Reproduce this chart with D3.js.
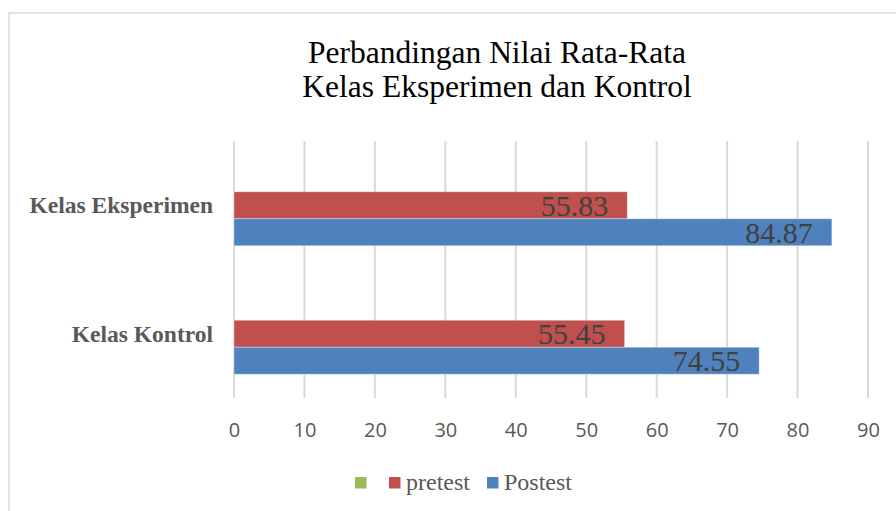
<!DOCTYPE html>
<html>
<head>
<meta charset="utf-8">
<script src="https://cdn.jsdelivr.net/npm/d3@7"></script>
<style>
  html, body { margin: 0; padding: 0; background: #fff; }
  svg { display: block; }
</style>
</head>
<body>
<svg id="chart" width="896" height="511"></svg>
<script>
const categories = ['Kelas Eksperimen', 'Kelas Kontrol'];
const seriesNames = ['', 'pretest', 'Postest'];
const seriesColors = ['#9bbb59', '#c0504d', '#4f81bd'];
const blankValues = [null, null];
const pretestValues = [55.83, 55.45];
const postestValues = [84.87, 74.55];
const xTicks = [0, 10, 20, 30, 40, 50, 60, 70, 80, 90];
const titleLines = ['Perbandingan Nilai Rata-Rata', 'Kelas Eksperimen dan Kontrol'];

const seriesValues = [blankValues, pretestValues, postestValues];

const svg = d3.select('#chart');

// chart frame
svg.append('rect')
  .attr('x', 9)
  .attr('y', 13)
  .attr('width', 900)
  .attr('height', 510)
  .attr('fill', 'none')
  .attr('stroke', '#d9d9d9')
  .attr('stroke-width', 1.5);

// title
svg.append('g')
  .selectAll('text')
  .data(titleLines)
  .enter()
  .append('text')
  .attr('x', 497)
  .attr('y', (d, i) => 63 + i * 34)
  .attr('text-anchor', 'middle')
  .style('font-family', '"Liberation Serif", "Times New Roman", serif')
  .style('font-size', '31.5px')
  .attr('fill', '#000')
  .text(d => d);

const x = d3.scaleLinear()
  .domain([0, 90])
  .range([234, 868]);

const yCat = d3.scaleBand()
  .domain(categories)
  .range([141, 398])
  .padding(0);

const ySeries = d3.scaleBand()
  .domain(seriesNames)
  .range([0, yCat.bandwidth()])
  .paddingInner(0)
  .paddingOuter(0.88);

// gridlines
svg.append('g')
  .attr('class', 'grid')
  .selectAll('line')
  .data(xTicks)
  .enter()
  .append('line')
  .attr('x1', d => x(d))
  .attr('x2', d => x(d))
  .attr('y1', 141)
  .attr('y2', 398)
  .attr('stroke', '#d9d9d9')
  .attr('stroke-width', 2);

// bars
const barRows = [];
seriesValues.forEach((vals, si) => {
  vals.forEach((v, ci) => {
    if (v !== null) barRows.push({ series: si, cat: categories[ci], value: v });
  });
});

const bars = svg.append('g')
  .attr('class', 'bars')
  .selectAll('g')
  .data(barRows)
  .enter()
  .append('g')
  .attr('transform', d => `translate(0,${yCat(d.cat) + ySeries(seriesNames[d.series])})`);

bars.append('rect')
  .attr('x', x(0))
  .attr('y', 0)
  .attr('width', d => x(d.value) - x(0))
  .attr('height', ySeries.bandwidth())
  .attr('fill', d => seriesColors[d.series])
  .attr('stroke', 'rgba(255,255,255,0.35)')
  .attr('stroke-width', 1);

bars.append('text')
  .attr('x', d => x(d.value) - 19)
  .attr('y', ySeries.bandwidth() / 2 + 10.5)
  .attr('text-anchor', 'end')
  .style('font-family', '"Liberation Serif", "Times New Roman", serif')
  .style('font-size', '30px')
  .attr('fill', '#404040')
  .text(d => d.value.toFixed(2));

// category labels
svg.append('g')
  .selectAll('text')
  .data(categories)
  .enter()
  .append('text')
  .attr('x', 213)
  .attr('y', d => yCat(d) + yCat.bandwidth() / 2 + 8)
  .attr('text-anchor', 'end')
  .style('font-family', '"Liberation Serif", "Times New Roman", serif')
  .style('font-size', '23.5px')
  .style('font-weight', 'bold')
  .attr('fill', '#595959')
  .text(d => d);

// x axis tick labels
const xAxis = svg.append('g')
  .attr('transform', 'translate(0,437)')
  .call(d3.axisBottom(x).tickValues(xTicks).tickSize(0).tickPadding(0));
xAxis.select('.domain').remove();
xAxis.selectAll('text')
  .attr('y', 0)
  .attr('dy', 0)
  .style('font-family', '"Open Sans", sans-serif')
  .style('font-size', '20px')
  .attr('fill', '#595959');

// legend
const legendX = [355, 389, 487];
const legend = svg.append('g')
  .selectAll('g')
  .data(seriesNames)
  .enter()
  .append('g')
  .attr('transform', (d, i) => `translate(${legendX[i]},477)`);

legend.append('rect')
  .attr('width', 11.5)
  .attr('height', 11.5)
  .attr('fill', (d, i) => seriesColors[i]);

legend.append('text')
  .attr('x', 17)
  .attr('y', 12.5)
  .style('font-family', '"Liberation Serif", "Times New Roman", serif')
  .style('font-size', '24px')
  .attr('fill', '#595959')
  .text(d => d);
</script>
</body>
</html>
